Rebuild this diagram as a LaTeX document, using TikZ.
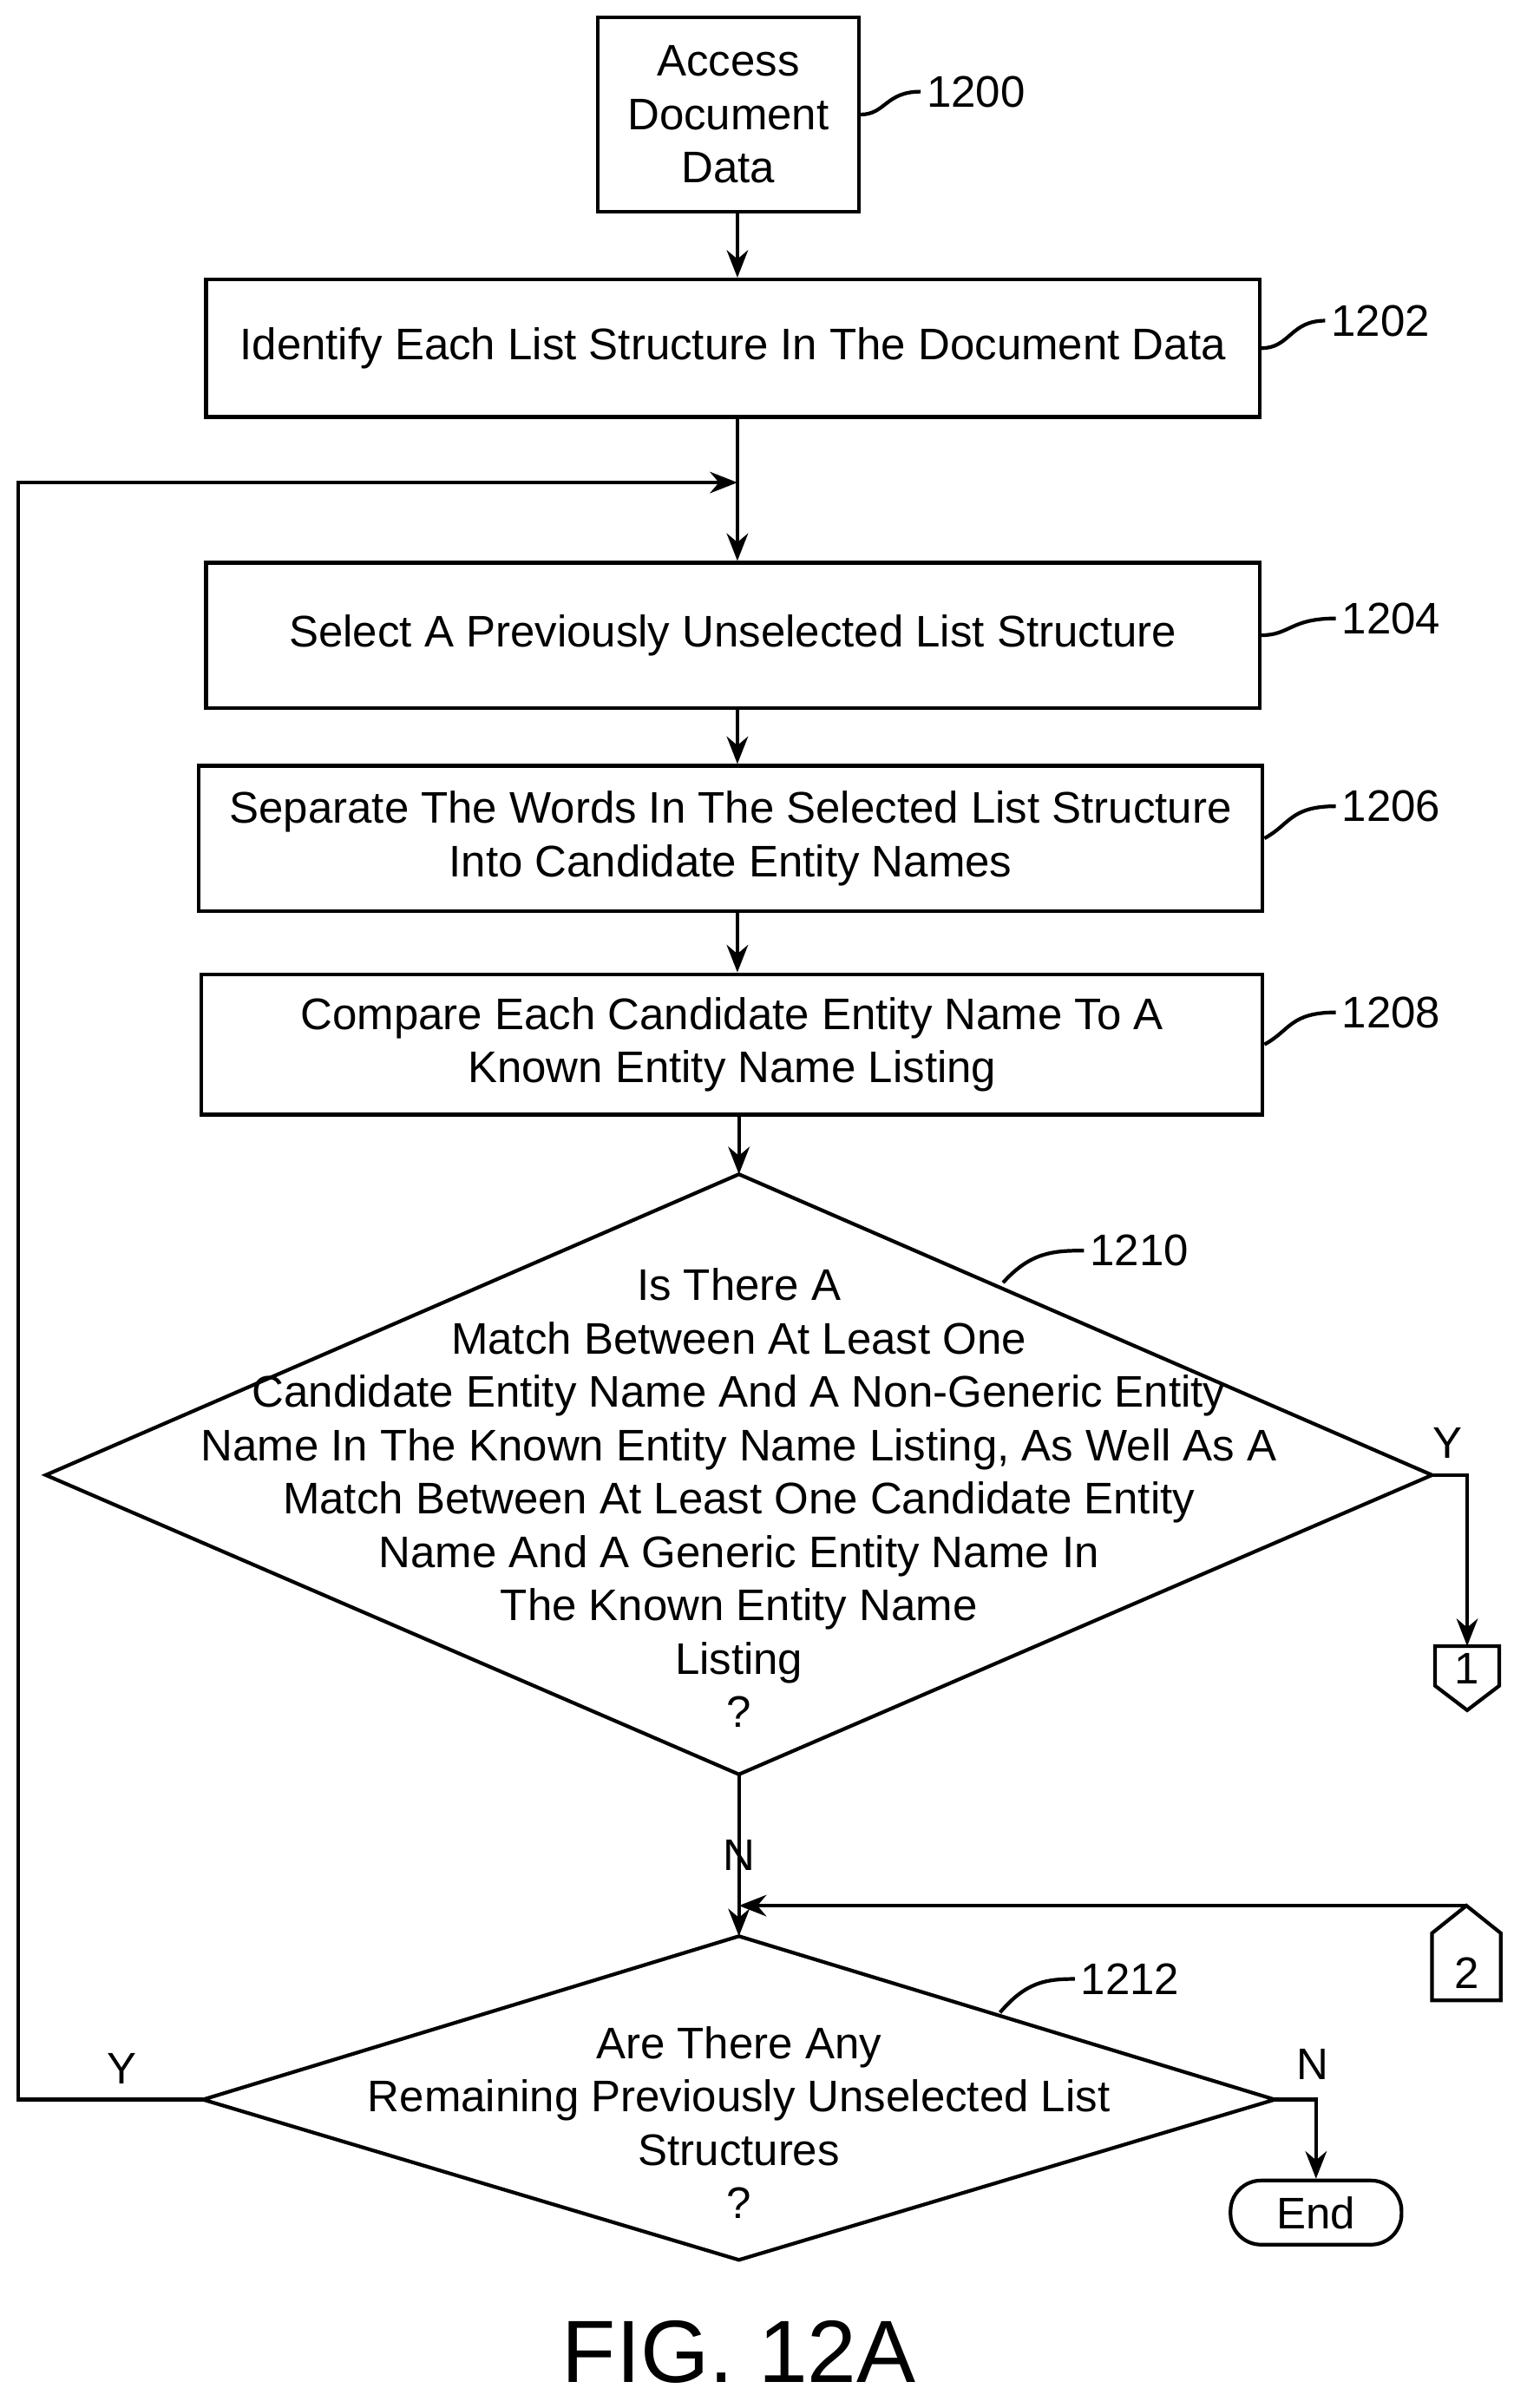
\documentclass[tikz,border=0pt]{standalone}
\usepackage{fontspec}
\setmainfont{Liberation Sans}
\usetikzlibrary{arrows.meta,shapes.geometric}
\begin{document}
\begin{tikzpicture}[x=0.01759cm,y=-0.01759cm,
  every node/.style={font=\fontsize{14.5}{17.5}\selectfont},
  box/.style={draw,line width=1.2pt,align=center,inner sep=0pt},
  dia/.style={draw,line width=1.2pt,diamond,aspect=2.3,align=center,inner sep=0pt},
  ln/.style={line width=1.2pt},
  ar/.style={ln,-{Stealth[length=9pt,width=7pt]}},
  lab/.style={anchor=west}]
\useasboundingbox (0,0) rectangle (1000,1577);
\node[box,minimum width=171*0.01759cm,minimum height=127*0.01759cm] (b1200) at (477,75) {Access\\Document\\Data};
\node[box,minimum width=690*0.01759cm,minimum height=90*0.01759cm] (b1202) at (480,228) {Identify Each List Structure In The Document Data};
\node[box,minimum width=690*0.01759cm,minimum height=95*0.01759cm] (b1204) at (480,416) {Select A Previously Unselected List Structure};
\node[box,minimum width=697*0.01759cm,minimum height=95*0.01759cm] (b1206) at (478.5,549) {Separate The Words In The Selected List Structure\\Into Candidate Entity Names};
\node[box,minimum width=695*0.01759cm,minimum height=92*0.01759cm] (b1208) at (479.5,684) {Compare Each Candidate Entity Name To A\\Known Entity Name Listing};
% diamonds drawn as paths
\coordinate (d1t) at (484,769); \coordinate (d1b) at (484,1162);
\coordinate (d1l) at (30,966); \coordinate (d1r) at (938,966);
\draw[ln] (d1t)--(d1r)--(d1b)--(d1l)--cycle;
\node[align=center] (t1210) at (484,981) {Is There A\\Match Between At Least One\\Candidate Entity Name And A Non-Generic Entity\\Name In The Known Entity Name Listing, As Well As A\\Match Between At Least One Candidate Entity\\Name And A Generic Entity Name In\\The Known Entity Name\\Listing\\?};
\coordinate (d2t) at (484,1268); \coordinate (d2b) at (484,1480);
\coordinate (d2l) at (133,1375); \coordinate (d2r) at (835,1375);
\draw[ln] (d2t)--(d2r)--(d2b)--(d2l)--cycle;
\node[align=center] (t1212) at (484,1390) {Are There Any\\Remaining Previously Unselected List\\Structures\\?};
\node[draw,ln,rounded corners=20*0.01759cm,minimum width=112*0.01759cm,minimum height=42*0.01759cm] (end) at (862,1449) {End};
% connectors 1 and 2
\draw[ln] (940,1078)--(982,1078)--(982,1104)--(961,1120)--(940,1104)--cycle;
\node (c1) at (961,1093) {1};
\draw[ln] (938,1310)--(983,1310)--(983,1266)--(960.5,1248)--(938,1266)--cycle;
\node (c2) at (960.5,1292) {2};
\coordinate (c1t) at (961,1078); \coordinate (c2t) at (960.5,1248);
% arrows
\draw[ar] (b1200.south-|483,0)--(b1202.north-|483,0);
\draw[ar] (b1202.south-|483,0)--(b1204.north-|483,0);
\draw[ar] (b1204.south-|483,0)--(b1206.north-|483,0);
\draw[ar] (b1206.south-|483,0)--(b1208.north-|483,0);
\draw[ar] (b1208.south-|484,0)--(d1t);
\draw[ar] (d1b)--(d2t);
\draw[ar] (d1r)--(961,966)--(c1t);
\draw[ar] (c2t)--(484,1248);
\draw[ar] (d2l)--(12,1375)--(12,316)--(483,316);
\draw[ar] (d2r)--(862,1375)--(end.north);
\node (y1) at (948,945) {Y};
\node (n1) at (484,1215) {N};
\node (y2) at (80,1355) {Y};
\node (n2) at (860,1352) {N};
% reference labels
\draw[ln] (b1200.east) .. controls (580,75) and (580,60) .. (603,60);
\node[lab] (l1200) at (600,60) {1200};
\draw[ln] (b1202.east) .. controls (845,228) and (845,210) .. (868,210);
\node[lab] (l1202) at (865,210) {1202};
\draw[ln] (b1204.east) .. controls (845,416) and (845,405) .. (875,405);
\node[lab] (l1204) at (872,405) {1204};
\draw[ln] (b1206.east) .. controls (845,540) and (845,528) .. (875,528);
\node[lab] (l1206) at (872,528) {1206};
\draw[ln] (b1208.east) .. controls (845,675) and (845,663) .. (875,663);
\node[lab] (l1208) at (872,663) {1208};
\draw[ln] (657,840) .. controls (675,820) and (690,819) .. (710,819);
\node[lab] (l1210) at (707,819) {1210};
\draw[ln] (655,1318) .. controls (672,1298) and (685,1296) .. (704,1296);
\node[lab] (l1212) at (701,1296) {1212};
\node[font=\fontsize{29}{32}\selectfont] (fig) at (484,1540) {FIG. 12A};
\end{tikzpicture}
\end{document}
